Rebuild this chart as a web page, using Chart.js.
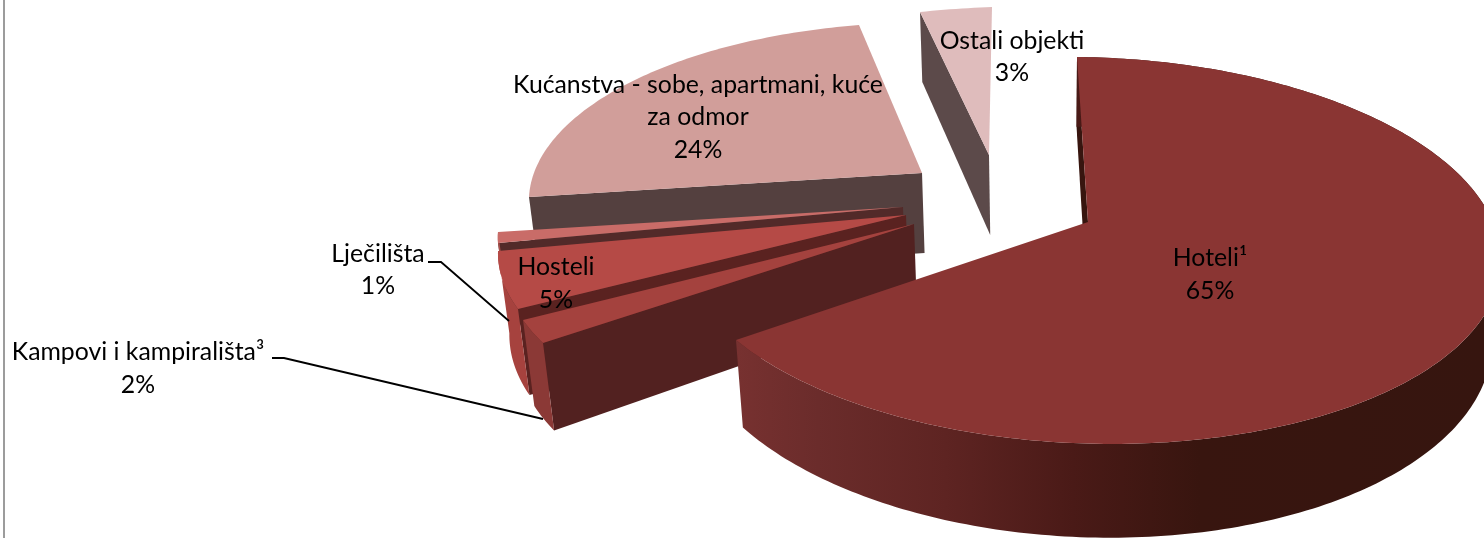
<!DOCTYPE html>
<html><head><meta charset="utf-8">
<style>html,body{margin:0;padding:0;background:#fff}canvas{display:block}</style>
<script src="https://cdn.jsdelivr.net/npm/chart.js@4/dist/chart.umd.min.js"></script>
</head><body><canvas id="c" width="1484" height="538"></canvas>
<script>
const categories = ['Hoteli¹','Kampovi i kampirališta³','Hosteli','Lječilišta','Kućanstva - sobe, apartmani, kuće za odmor','Ostali objekti'];
const shares = [65,2,5,1,24,3];

// styling, one per slice
const faceColors = ['#8a3533','#a4423e','#b54a46','#c96c68','#d19e9a','#dfbcbc'];
const edgeColors = ['#37150f','#522120','#5a2220','#522a29','#54403f','#5c4a4a'];
const rimColors  = ['gradient','#8b3936','#a6423e','#a8504c',null,null];
const rimStops = [[0,'#773130'],[.11,'#6b2c2b'],[.28,'#5e2422'],[.45,'#4a1a17'],[.62,'#38150f'],[1,'#36150f']];

// perspective placement of each exploded slice: apex, rim at slice start, rim at slice end
const apexes    = [[1088,222],[914,224],[906,215],[903,207],[922,173],[989,155]];
const rimStarts = [[1077,57],[543,343],[518,309],[498,243],[529,197],[920,12]];
const rimEnds   = [[736,340],[523,320],[498,251],[498,232],[859,25],[992,7]];
const paintOrder = [5,4,3,2,1,0];
const kx = 0, ky = .147, depth = 80, vanishX = 1050, converge = .00025;

const labelLines = [
  {x:1210,lines:[['Hoteli¹',258],['65%',291]]},
  {x:138,lines:[['Kampovi i kampirališta³',352],['2%',385]]},
  {x:556,lines:[['Hosteli',267],['5%',300]]},
  {x:378,lines:[['Lječilišta',254],['1%',286]]},
  {x:698,lines:[['Kućanstva - sobe, apartmani, kuće',85],['za odmor',117],['24%',150]]},
  {x:1012,lines:[['Ostali objekti',41],['3%',73]]}
];
const leaders = [
  [[428,262],[441,262],[509,321]],
  [[272,358],[284,358],[543,419]]
];

function mapper(arc,i){
  const C=apexes[i],S=rimStarts[i],E=rimEnds[i];
  const a=arc.startAngle,b=arc.endAngle;
  const x1=Math.cos(a),y1=Math.sin(a),x2=Math.cos(b),y2=Math.sin(b);
  const w1=1-kx*x1-ky*y1,w2=1-kx*x2-ky*y2;
  const ax=(S[0]-C[0])*w1,ay=(S[1]-C[1])*w1,bx=(E[0]-C[0])*w2,by=(E[1]-C[1])*w2;
  const det=x1*y2-x2*y1;
  const U=[(ax*y2-bx*y1)/det,(ay*y2-by*y1)/det];
  const V=[(x1*bx-x2*ax)/det,(x1*by-x2*ay)/det];
  return t=>{
    const x=Math.cos(t),y=Math.sin(t),w=1-kx*x-ky*y;
    return {X:C[0]+(x*U[0]+y*V[0])/w,Y:C[1]+(x*U[1]+y*V[1])/w,w};
  };
}
function drop(p){
  const d=depth/p.w;
  return [p.X+(vanishX-p.X)*d*converge,p.Y+d];
}
function poly(ctx,pts,fill){
  ctx.beginPath();
  pts.forEach((p,j)=>j?ctx.lineTo(p[0],p[1]):ctx.moveTo(p[0],p[1]));
  ctx.closePath();
  ctx.fillStyle=fill;ctx.fill();
}
const perspectivePie={
  id:'perspectivePie',
  beforeDatasetDraw(chart,args){
    const ctx=chart.ctx,arcs=chart.getDatasetMeta(args.index).data;
    ctx.save();
    paintOrder.forEach(i=>{
      const arc=arcs[i],m=mapper(arc,i);
      const rim=[];
      const a=arc.startAngle,b=arc.endAngle,n=Math.max(8,Math.ceil((b-a)*60));
      for(let k=0;k<=n;k++) rim.push(m(a+(b-a)*k/n));
      const C={X:apexes[i][0],Y:apexes[i][1],w:1};
      // radial wall on the slice's leading edge
      poly(ctx,[[rim[0].X,rim[0].Y],[C.X,C.Y],drop(C),drop(rim[0])],edgeColors[i]);
      // outer wall
      let fill=rimColors[i];
      if(fill==='gradient'){
        fill=ctx.createLinearGradient(736,0,1484,0);
        rimStops.forEach(s=>fill.addColorStop(s[0],s[1]));
      }
      if(fill) poly(ctx,rim.map(p=>[p.X,p.Y]).concat(rim.slice().reverse().map(drop)),fill);
      // top face
      poly(ctx,[[C.X,C.Y]].concat(rim.map(p=>[p.X,p.Y])),arc.options.backgroundColor);
    });
    ctx.restore();
    return false;
  },
  afterDraw(chart){
    const ctx=chart.ctx;
    ctx.save();
    ctx.fillStyle='#9c9c9c';ctx.fillRect(3,0,2,538);
    ctx.strokeStyle='#000';ctx.lineWidth=1.8;
    leaders.forEach(l=>{ctx.beginPath();l.forEach((p,j)=>j?ctx.lineTo(p[0],p[1]):ctx.moveTo(p[0],p[1]));ctx.stroke();});
    ctx.fillStyle='#000';ctx.font='24.8px Lato';ctx.textAlign='center';ctx.textBaseline='middle';
    labelLines.forEach(l=>l.lines.forEach(t=>ctx.fillText(t[0],l.x,t[1])));
    ctx.restore();
  }
};
new Chart(document.getElementById('c'),{
  type:'pie',
  data:{labels:categories,datasets:[{data:shares,backgroundColor:faceColors,borderWidth:0}]},
  options:{responsive:false,animation:false,events:[],rotation:0,
    plugins:{legend:{display:false},tooltip:{enabled:false}}},
  plugins:[perspectivePie]
});
</script></body></html>
